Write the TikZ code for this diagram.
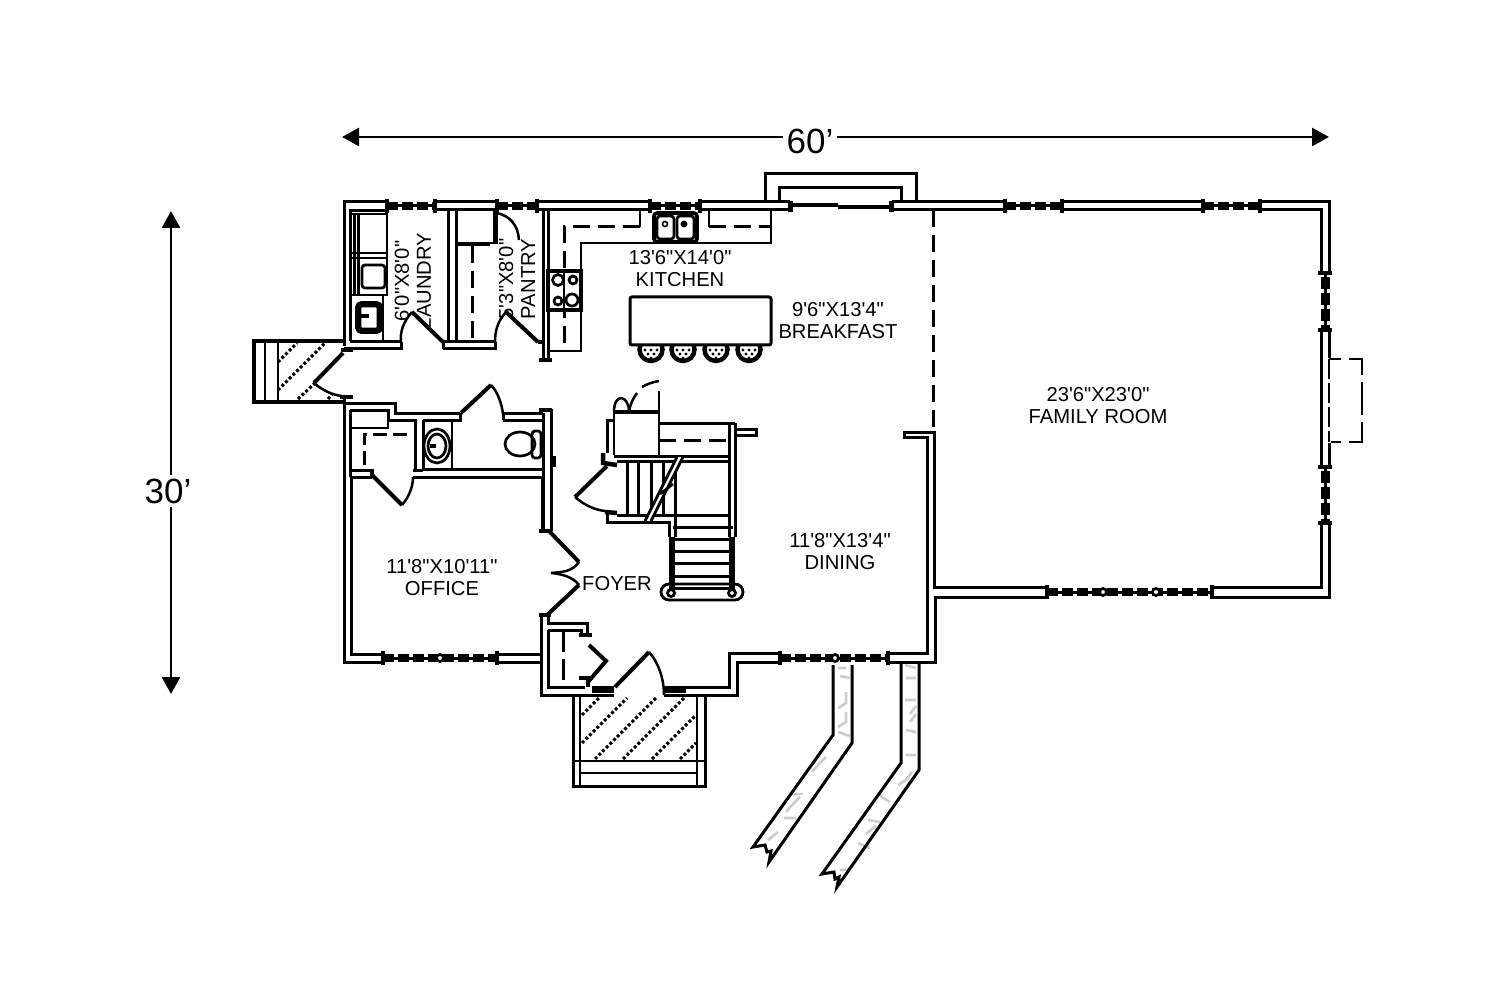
\documentclass[tikz,border=0pt]{standalone}
\usepackage{fontspec}
\newfontfamily\planfont{Liberation Sans}
\usepackage{tikz}
\usetikzlibrary{arrows.meta,positioning,calc}
\def \wallW {3pt}
\tikzset{
	wall/.style= {draw, line width=\wallW, line join=miter},
	fixture/.style= {draw, line width=2.7pt},
	dashline/.style= {draw, line width=3pt, dash pattern=on 17pt off 8pt},
	hatchline/.style= {draw, line width=3pt, dash pattern=on 3pt off 2.2pt},
	leaf/.style= {draw, line width=4pt},
	swing/.style= {draw, line width=2.5pt},
	texture/.style= {draw=gray!40, line width=2.6pt},
	roomlabel/.style= {font=\planfont\fontsize{20.2}{22}\selectfont, align=center, inner sep=0pt},
	dimlabel/.style= {font=\planfont\fontsize{35}{38}\selectfont, fill=white, inner sep=4pt},
	dimarrow/.style= {draw, line width=2.8pt, {Triangle[length=17pt,width=18pt]}-{Triangle[length=17pt,width=18pt]}}
}
% door: hinge, tip, control, end
\newcommand{\doorswing}[4]{
	\fill[white] #1 -- #2 .. controls #3 .. #4 -- cycle;
	\draw[swing] #2 .. controls #3 .. #4;
	\draw[leaf] #1 -- #2;
}
% window in a wall: from, to, at
\newcommand{\hwin}[3]{
	\draw[line width=3pt] (#1,#3) -- (#2,#3);
	\draw[line width=8pt, dash pattern=on 11pt off 4pt] (#1,#3) -- (#2,#3);
	\draw[line width=4.5pt] (#1,#3-7) -- (#1,#3+7) (#2,#3-7) -- (#2,#3+7);
}
\newcommand{\vwin}[3]{
	\draw[line width=3pt] (#3,#1) -- (#3,#2);
	\draw[line width=9pt, dash pattern=on 12pt off 4pt] (#3,#1+4) -- (#3,#2);
	\draw[line width=4.5pt] (#3-7,#1) -- (#3+7,#1) (#3-7,#2) -- (#3+7,#2);
}
\begin{document}
\begin{tikzpicture}[x=1pt,y=-1pt]
\useasboundingbox (0,0) rectangle (1500,1000);

%%%%%%%%%%%%%%%%%%%%% Labels %%%%%%%%%%%%%%%%%%%%%
	\node [roomlabel] (kitchen) at (680,269) {13'6"X14'0"\\KITCHEN};
	\node [roomlabel] (breakfast) at (838,321) {9'6"X13'4"\\BREAKFAST};
	\node [roomlabel] (family) at (1098,406) {23'6"X23'0"\\FAMILY ROOM};
	\node [roomlabel] (dining) at (840,552) {11'8"X13'4"\\DINING};
	\node [roomlabel] (office) at (442,578) {11'8"X10'11"\\OFFICE};
	\node [roomlabel] (foyer) at (617,584) {FOYER};
	\node [roomlabel, rotate=90] (laundry) at (413,281) {6'0"X8'0"\\LAUNDRY};
	\node [roomlabel, rotate=90] (pantry) at (517,279) {5'3"X8'0"\\PANTRY};

%%%%%%%%%%%%%%%%%%%%% Dimensions %%%%%%%%%%%%%%%%%%%%%
	\coordinate (widthL) at (342,137);
	\coordinate (widthR) at (1329,137);
	\coordinate (depthT) at (171,211);
	\coordinate (depthB) at (171,694);
	\draw [dimarrow] (widthL) -- (widthR);
	\draw [dimarrow] (depthT) -- (depthB);
	\node [dimlabel] (width) at (810,141) {60’};
	\node [dimlabel] (depth) at (168,491) {30’};

%%%%%%%%%%%%%%%%%%%%% Outer walls %%%%%%%%%%%%%%%%%%%%%
	\path [wall] (344,346) -- (344,202) -- (387,202);
	\path [wall] (350,341) -- (350,211) -- (387,211);
	\path [wall] (435,202) -- (497,202) (435,210) -- (497,210);
	\path [wall] (537,202) -- (650,202) (537,210) -- (650,210);
	\path [wall] (700,202) -- (790,202) (700,210) -- (790,210);
	\path [wall] (892,202) -- (1005,202) (892,210) -- (1005,210);
	\path [wall] (1062,202) -- (1203,202) (1062,210) -- (1203,210);
	\path [wall] (1260,202) -- (1329,202) -- (1329,273);
	\path [wall] (1260,210) -- (1321,210) -- (1321,273);
	\path [wall] (1321,330) -- (1321,467) (1329,330) -- (1329,358) (1329,443) -- (1329,467);
	\path [wall] (1321,523) -- (1321,587) -- (1212,587);
	\path [wall] (1329,523) -- (1329,597) -- (1212,597);
	\path [wall] (1047,587) -- (934,587) -- (934,432) -- (904,432) -- (904,437) -- (927,437) -- (927,653) -- (888,653);
	\path [wall] (1047,597) -- (935,597) -- (935,662) -- (888,662);
	\path [wall] (780,653) -- (729,653) -- (729,687) -- (686,687);
	\path [wall] (780,662) -- (737,662) -- (737,695) -- (686,695);
	\path [wall] (575,695) -- (541,695) -- (541,615);
	\path [wall] (344,397) -- (344,662) -- (383,662);
	\path [wall] (497,662) -- (541,662);
	\path [wall] (351,477) -- (351,654) -- (383,654);
	\path [wall] (497,654) -- (542,654);
	\hwin{387}{435}{206}
	\hwin{497}{537}{206}
	\hwin{650}{700}{206}
	\hwin{1005}{1062}{206}
	\hwin{1203}{1260}{206}
	\hwin{1047}{1212}{592}
	\hwin{383}{497}{658}
	\hwin{780}{888}{658}
	\vwin{273}{330}{1325}
	\vwin{467}{523}{1325}
	\draw [fill=white, line width=2.7pt] (1103,592) circle (3.5);
	\draw [fill=white, line width=2.7pt] (1156,592) circle (3.5);
	\draw [fill=white, line width=2.7pt] (835,658) circle (3.5);
	\draw [fill=white, line width=2.7pt] (440,658) circle (3.5);
	% sliding door
	\draw [line width=3.6pt] (790,205) -- (838,205) (838,207) -- (890,207);
	\draw [line width=5pt] (790,201) -- (790,212) (891,201) -- (891,212);
	% fireplace bay
	\path [wall] (765,202) -- (765,174) -- (916,174) -- (916,202);
	\path [wall] (779,202) -- (779,188) -- (901,188) -- (901,202);
	% chimney
	\path [fixture, dash pattern=on 20pt off 4pt] (1329,359) -- (1329,442);
	\path [fixture] (1329,359) -- (1341,359) (1349,359) -- (1362,359) -- (1362,375);
	\path [fixture] (1362,382) -- (1362,415) (1362,422) -- (1362,442) -- (1349,442) (1341,442) -- (1331,442);
	% breakfast to family
	\path [dashline] (933,210) -- (933,430);

%%%%%%%%%%%%%%%%%%%%% Laundry and pantry %%%%%%%%%%%%%%%%%%%%%
	\path [wall] (350,342) -- (401,342) (344,349) -- (401,349) -- (401,342);
	\path [wall] (443,342) -- (495,342) (443,349) -- (495,349) -- (495,342) (443,342) -- (443,349);
	\path [wall] (448,210) -- (448,342) (456,210) -- (456,342);
	\path [wall] (543,210) -- (543,360) (548,210) -- (548,360);
	\draw [line width=4.5pt] (538,342) -- (543,342) (539,360) -- (552,360);
	\path [fixture] (350,214) -- (387,214) -- (387,295) -- (350,295);
	\path [fixture] (350,253) -- (387,253) (350,258) -- (387,258);
	\path [fixture] (383,295) -- (383,342);
	\path [fixture] (354.5,214) -- (354.5,295) (358.5,214) -- (358.5,295);
	\draw [fixture, rounded corners=3pt] (362,265) rectangle (385,288);
	\draw [line width=3.6pt, rounded corners=4pt] (357,303) rectangle (381,332);
	\draw [fixture, rounded corners=2pt] (360,306) rectangle (378,329);
	\draw [line width=3.6pt] (361,316) -- (369,316);
	\path [fixture] (456,243) -- (495,243) (456,245) -- (490,245);
	\draw [line width=5pt] (495,211) -- (495,244);
	\path [dashline] (472,246) -- (472,340);
	\doorswing{(443,342)}{(412,312)}{(403,322) and (400,332)}{(401,342)}
	\doorswing{(538,342)}{(506,312)}{(497,322) and (495,332)}{(495,342)}
	\draw [swing] (497,213) .. controls (510,216) and (518,225) .. (519,240);

%%%%%%%%%%%%%%%%%%%%% Side deck %%%%%%%%%%%%%%%%%%%%%
	\path [hatchline] (278,362) -- (297,343) (278,390) -- (325,343) (298,399) -- (315,383) (328,399) -- (340,385);
	\draw [line width=4pt] (343,341) -- (254,341) -- (254,402) -- (343,402);
	\path [fixture] (265,341) -- (265,402) (278,341) -- (278,402);
	\doorswing{(343,353)}{(314,383)}{(322,390) and (332,395)}{(342,396)}
	\draw [line width=4.5pt] (341,350) -- (353,350) (340,397) -- (353,397);

%%%%%%%%%%%%%%%%%%%%% Bath and closet %%%%%%%%%%%%%%%%%%%%%
	\path [wall] (344,403) -- (395,403) -- (395,413) -- (460,413);
	\path [wall] (350,410) -- (350,477) (350,410) -- (388,410) -- (388,420) -- (415,420) -- (415,470);
	\path [fixture] (350,428) -- (388,428) -- (388,420);
	\path [wall] (423,420) -- (460,420) -- (460,413);
	\path [wall] (503,413) -- (543,413) (503,420) -- (543,420) (503,413) -- (503,420);
	\path [wall] (423,420) -- (423,469) -- (543,469);
	\path [wall] (543,413) -- (543,531) (551,409) -- (551,531);
	\draw [line width=4.5pt] (539,410) -- (552,410) (539,531) -- (552,531);
	\draw [line width=3.6pt] (551,458) -- (554,458) -- (554,465) -- (551,465);
	\path [fixture] (452,420) -- (452,469);
	\draw [fixture] (437,446) ellipse (13 and 17);
	\draw [fixture] (437,446) ellipse (9 and 12);
	\draw [line width=3.6pt] (430,446) -- (436,446);
	\draw [fixture, rounded corners=3pt] (532,431) rectangle (541,458);
	\draw [fixture] (520,444) ellipse (15 and 12);
	\doorswing{(461,413)}{(491,385)}{(498,392) and (502,405)}{(503,414)}
	\path [dashline, dash pattern=on 14pt off 6pt] (364,465) -- (364,434) -- (413,434);
	\path [wall] (351,470) -- (372,470) (351,477) -- (372,477) (413,477) -- (542,477) (413,470) -- (423,470);
	\doorswing{(372,475)}{(402,505)}{(408,498) and (413,488)}{(413,477)}
	\draw [line width=4.5pt] (372,469) -- (372,478);

%%%%%%%%%%%%%%%%%%%%% Office doors and foyer %%%%%%%%%%%%%%%%%%%%%
	\path [wall] (542,477) -- (542,531);
	\doorswing{(549,531)}{(579,562)}{(572,572) and (562,572)}{(551,573)}
	\doorswing{(547,615)}{(579,585)}{(573,577) and (562,574)}{(551,573)}
	\draw [line width=4.5pt] (539,615) -- (551,615);
	\path [wall] (548,615) -- (548,623) -- (587,623) -- (587,635);
	\path [wall] (548,630) -- (581,630) -- (581,635);
	\path [wall] (548,630) -- (548,687) -- (585,687);
	\draw [line width=4.5pt] (579,635) -- (592,635) (579,678) -- (588,678) -- (588,687);
	\path [leaf] (589,645) -- (606,661) -- (588,682);
	\path [dashline, dash pattern=on 22pt off 7pt] (563,630) -- (563,680);
	\draw [line width=7pt] (592,689) -- (614,689) (664,689) -- (686,689);
	\draw [line width=3pt] (587,695) -- (614,695) (664,695) -- (686,695) (575,695) -- (590,695);
	\doorswing{(615,687)}{(649,652)}{(658,662) and (664,678)}{(664,695)}

%%%%%%%%%%%%%%%%%%%%% Kitchen %%%%%%%%%%%%%%%%%%%%%
	\path [fixture] (640,210) -- (640,227);
	\path [fixture] (709,210) -- (709,227);
	\path [fixture] (771,210) -- (771,243) -- (581,243) -- (581,351) -- (548,351);
	\path [dashline] (640,227) -- (564,227) -- (564,351);
	\path [dashline] (709,227) -- (771,227);
	\draw [line width=3.6pt, fill=white, rounded corners=3pt] (654,213) rectangle (697,242);
	\draw [fixture, fill=white, rounded corners=3pt] (657,216) rectangle (674,239);
	\draw [fixture, fill=white, rounded corners=3pt] (677,216) rectangle (694,239);
	\fill (684,224) circle (3.5);
	\draw [line width=1.6pt] (665,224) circle (2.5);
	\draw [fixture, fill=white, line width=3.6pt] (548,271) rectangle (581,310);
	\draw [fixture] (558,280) circle (5.5) (573,280) circle (4) (558,301) circle (4) (572,300) circle (6);
	\draw [fixture] (564,271) -- (564,310);
	\foreach \stoolx in {651,683,716,749} {
		\draw [line width=4.5pt] (\stoolx,349.5) circle (11.5);
		\foreach \dotx/\doty in {-6/350,0/350,6/350,-3/354,3/354,0/358}
			\fill (\stoolx+\dotx,\doty) circle (1.6);
	}
	\draw [line width=3pt, fill=white, rounded corners=2pt] (630,297) rectangle (771,345);

%%%%%%%%%%%%%%%%%%%%% Stair %%%%%%%%%%%%%%%%%%%%%
	\path [fixture] (614,412) -- (614,455) (659,391) -- (659,455);
	\draw [line width=4.5pt] (614,412) -- (659,412);
	\draw [swing] (614,412) .. controls (614,392) and (629,395) .. (629,412);
	\draw [swing] (629,412) .. controls (630,404) and (634,397) .. (637,393);
	\draw [swing] (642,387) .. controls (647,384) and (653,382) .. (659,381);
	\path [wall] (614,420) -- (607,420) -- (607,453);
	\draw [line width=4.5pt] (603,453) -- (603,463) -- (617,465);
	\path [wall] (614,456) -- (729,456) (617,461) -- (729,461);
	\path [wall] (659,423) -- (735,423);
	\path [dashline] (659,440) -- (729,440);
	\path [wall] (729,423) -- (729,537) (735,423) -- (735,537);
	\path [wall] (735,429) -- (756,429) -- (756,435) -- (735,435);
	\foreach \treadx in {627,638,651,663}
		\path [wall] (\treadx,461) -- (\treadx,515);
	\path [wall] (675,461) -- (675,537);
	\path [wall] (617,515) -- (729,515);
	\path [wall] (607,512) -- (607,522) -- (669,522) -- (669,537);
	\draw [line width=4.5pt] (605,512) -- (617,513);
	\foreach \tready in {527,539,551,563,576,588}
		\path [wall] (673,\tready) -- (733,\tready);
	\draw [line width=5.5pt] (672,537) -- (672,592) (732,537) -- (732,592);
	\fill [white] (645,521) -- (677,457) -- (683,457) -- (651,521) -- cycle;
	\path [fixture] (645,521) -- (677,457) (651,521) -- (683,457);
	\path [fixture] (660,494) -- (673,484);
	\draw [line width=2.8pt, rounded corners=8pt] (661,584) rectangle (743,600);
	\draw [line width=2.8pt, fill=white] (671,593) circle (3.5) (732,593) circle (3.5);
	\doorswing{(607,466)}{(575,497)}{(584,505) and (595,510)}{(605,511)}

%%%%%%%%%%%%%%%%%%%%% Front porch %%%%%%%%%%%%%%%%%%%%%
	\path [hatchline] (582,715) -- (599,698) (582,743) -- (627,698) (595,759) -- (656,698);
	\path [hatchline] (623,759) -- (684,698) (652,759) -- (696,715) (680,759) -- (696,743);
	\path [wall] (573,695) -- (573,786) -- (705,786) -- (705,695);
	\path [fixture] (580,695) -- (580,786) (697,695) -- (697,786);
	\path [fixture] (573,761) -- (705,761) (580,773) -- (697,773);

%%%%%%%%%%%%%%%%%%%%% Walks %%%%%%%%%%%%%%%%%%%%%
	\path [texture] (838,668) -- (846,668) (840,676) -- (850,678) (846,692) -- (846,703) -- (838,708);
	\path [texture] (846,712) -- (846,722) -- (838,727) (838,732) -- (850,736);
	\path [texture] (826,757) -- (818,765) -- (812,772) (800,797) -- (792,805) -- (786,812);
	\path [texture] (784,818) -- (796,818) (778,832) -- (768,840);
	\path [texture] (790,794) -- (803,794);
	\path [texture] (905,665) -- (916,668) (906,678) -- (916,678) (905,700) -- (916,700) (910,714) -- (916,706);
	\path [texture] (906,730) -- (916,732) (906,755) -- (916,755) (910,722) -- (916,714);
	\path [texture] (898,785) -- (906,780) -- (912,772) (880,796) -- (890,802);
	\path [texture] (868,820) -- (880,822) (866,834) -- (876,826) (858,843) -- (870,848) (840,870) -- (848,870);
	\path [wall] (833,665) -- (833,735) -- (753,847) -- (765,845) -- (767,852) -- (771,851) -- (769,862) -- (852,743) -- (852,665);
	\path [wall] (901,662) -- (901,763) -- (822,874) -- (834,872) -- (835,879) -- (839,877) -- (837,887) -- (919,770) -- (919,662);

\end{tikzpicture}
\end{document}
